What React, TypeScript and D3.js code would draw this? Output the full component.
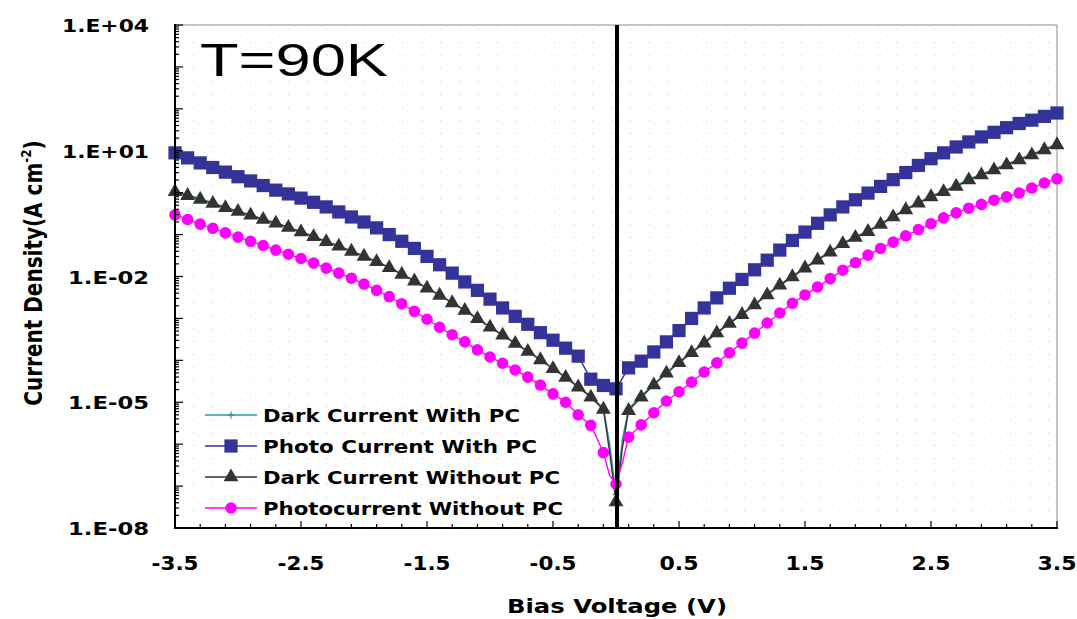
import React from "react";
import * as d3 from "d3";

const WIDTH = 1077;
const HEIGHT = 619;

// Bias voltage (V) sweep for the dark / photocurrent-without-PC curves
const VOLTAGE = [
  -3.5, -3.4, -3.3, -3.2, -3.1, -3.0, -2.9, -2.8, -2.7, -2.6, -2.5, -2.4, -2.3, -2.2, -2.1, -2.0, -1.9, -1.8,
  -1.7, -1.6, -1.5, -1.4, -1.3, -1.2, -1.1, -1.0, -0.9, -0.8, -0.7, -0.6, -0.5, -0.4, -0.3, -0.2, -0.1, -0.05,
  0, 0.05, 0.1, 0.2, 0.3, 0.4, 0.5, 0.6, 0.7, 0.8, 0.9, 1.0, 1.1, 1.2, 1.3, 1.4, 1.5, 1.6, 1.7, 1.8, 1.9, 2.0,
  2.1, 2.2, 2.3, 2.4, 2.5, 2.6, 2.7, 2.8, 2.9, 3.0, 3.1, 3.2, 3.3, 3.4, 3.5,
];
// Bias voltage (V) sweep for the photocurrent-with-PC curve
const VOLTAGE_PHOTO_PC = [
  -3.5, -3.4, -3.3, -3.2, -3.1, -3.0, -2.9, -2.8, -2.7, -2.6, -2.5, -2.4, -2.3, -2.2, -2.1, -2.0, -1.9, -1.8,
  -1.7, -1.6, -1.5, -1.4, -1.3, -1.2, -1.1, -1.0, -0.9, -0.8, -0.7, -0.6, -0.5, -0.4, -0.3, -0.2, -0.1,
  0, 0.1, 0.2, 0.3, 0.4, 0.5, 0.6, 0.7, 0.8, 0.9, 1.0, 1.1, 1.2, 1.3, 1.4, 1.5, 1.6, 1.7, 1.8, 1.9, 2.0,
  2.1, 2.2, 2.3, 2.4, 2.5, 2.6, 2.7, 2.8, 2.9, 3.0, 3.1, 3.2, 3.3, 3.4, 3.5,
];
// sweep points drawn as line only (no marker)
const UNMARKED_VOLTAGES = [-0.05, 0.05];

// log10 of current density (A cm^-2)
const DARK_WITH_PC_LOG = [
  0.04, -0.05, -0.15, -0.24, -0.35, -0.44, -0.53, -0.63, -0.72, -0.82, -0.93, -1.04, -1.16, -1.27, -1.39, -1.51, -1.64, -1.78,
  -1.94, -2.10, -2.27, -2.44, -2.62, -2.80, -3.00, -3.20, -3.39, -3.59, -3.78, -3.98, -4.19, -4.40, -4.62, -4.86, -5.14, -6.0,
  -7.2, -5.9, -5.15, -4.85, -4.57, -4.29, -4.04, -3.80, -3.57, -3.33, -3.10, -2.89, -2.66, -2.42, -2.19, -1.99, -1.78, -1.59,
  -1.40, -1.20, -1.05, -0.91, -0.74, -0.56, -0.39, -0.23, -0.08, 0.04, 0.17, 0.32, 0.44, 0.56, 0.68, 0.80, 0.92, 1.04, 1.16,
];
const PHOTO_WITH_PC_LOG = [
  0.95, 0.83, 0.71, 0.60, 0.49, 0.38, 0.28, 0.17, 0.06, -0.03, -0.13, -0.23, -0.34, -0.46, -0.58, -0.70, -0.84, -1.00,
  -1.16, -1.33, -1.52, -1.72, -1.92, -2.13, -2.33, -2.54, -2.75, -2.95, -3.14, -3.34, -3.52, -3.71, -3.90, -4.45, -4.60,
  -4.68, -4.18, -4.02, -3.80, -3.56, -3.29, -3.00, -2.75, -2.51, -2.28, -2.07, -1.84, -1.61, -1.37, -1.14, -0.94, -0.73,
  -0.53, -0.34, -0.17, -0.01, 0.15, 0.31, 0.48, 0.65, 0.81, 0.95, 1.09, 1.21, 1.33, 1.44, 1.55, 1.65, 1.73, 1.82, 1.90,
];
const DARK_WITHOUT_PC_LOG = [
  0.02, -0.07, -0.16, -0.26, -0.36, -0.45, -0.54, -0.64, -0.73, -0.83, -0.94, -1.05, -1.17, -1.28, -1.40, -1.52, -1.65, -1.79,
  -1.95, -2.11, -2.28, -2.45, -2.63, -2.81, -3.01, -3.21, -3.40, -3.60, -3.79, -3.99, -4.20, -4.41, -4.64, -4.88, -5.17, -6.2,
  -7.38, -6.1, -5.2, -4.88, -4.59, -4.31, -4.06, -3.82, -3.59, -3.35, -3.12, -2.91, -2.68, -2.44, -2.21, -2.01, -1.80, -1.61,
  -1.42, -1.22, -1.07, -0.93, -0.76, -0.58, -0.41, -0.25, -0.10, 0.02, 0.15, 0.30, 0.42, 0.54, 0.66, 0.78, 0.90, 1.02, 1.14,
];
const PHOTO_WITHOUT_PC_LOG = [
  -0.53, -0.64, -0.75, -0.85, -0.96, -1.06, -1.16, -1.26, -1.37, -1.47, -1.57, -1.68, -1.80, -1.92, -2.04, -2.18, -2.33, -2.48,
  -2.65, -2.83, -3.02, -3.21, -3.39, -3.56, -3.75, -3.92, -4.07, -4.23, -4.40, -4.59, -4.80, -5.00, -5.30, -5.55, -6.20, -6.75,
  -6.95, -6.45, -5.83, -5.54, -5.25, -4.97, -4.75, -4.52, -4.28, -4.06, -3.82, -3.59, -3.35, -3.11, -2.87, -2.64, -2.44, -2.25,
  -2.05, -1.85, -1.67, -1.49, -1.33, -1.18, -1.03, -0.88, -0.74, -0.60, -0.48, -0.37, -0.28, -0.18, -0.10, -0.01, 0.11, 0.23, 0.33,
];

const SERIES_NAMES = ["Dark Current With PC", "Photo Current With PC", "Dark Current Without PC", "Photocurrent Without PC"];
const SERIES_COLORS = ["#2f9a9a", "#333399", "#333333", "#ff00ff"];

const X_TICK_VALUES = [-3.5, -2.5, -1.5, -0.5, 0.5, 1.5, 2.5, 3.5];
const X_TICK_LABELS = ["-3.5", "-2.5", "-1.5", "-0.5", "0.5", "1.5", "2.5", "3.5"];
const Y_TICK_VALUES = [1e4, 1e1, 1e-2, 1e-5, 1e-8];
const Y_TICK_LABELS = ["1.E+04", "1.E+01", "1.E-02", "1.E-05", "1.E-08"];

const FONT = "'DejaVu Sans', Verdana, sans-serif";
const TITLE_FONT = "Arial, 'Liberation Sans', Helvetica, sans-serif";

const M = { left: 175, right: 1057, top: 25, bottom: 528 };

export default function App() {
  const x = d3.scaleLinear().domain([-3.5, 3.5]).range([M.left, M.right]);
  const y = d3.scaleLog().domain([1e-8, 1e4]).range([M.bottom, M.top]);

  const toPts = (vs: number[], ls: number[]) => vs.map((v, i) => [v, Math.pow(10, ls[i])] as [number, number]);
  const line = d3
    .line<[number, number]>()
    .x((d) => x(d[0]))
    .y((d) => y(d[1]));

  const series = [
    { pts: toPts(VOLTAGE, DARK_WITH_PC_LOG), kind: "plus" },
    { pts: toPts(VOLTAGE_PHOTO_PC, PHOTO_WITH_PC_LOG), kind: "square" },
    { pts: toPts(VOLTAGE, DARK_WITHOUT_PC_LOG), kind: "triangle" },
    { pts: toPts(VOLTAGE, PHOTO_WITHOUT_PC_LOG), kind: "circle" },
  ];

  const symSquare = d3.symbol(d3.symbolSquare, 175)() as string;
  const symTriangle = d3.symbol(d3.symbolTriangle, 95)() as string;
  const symCircle = d3.symbol(d3.symbolCircle, 105)() as string;
  const plusPath = "M-3.5,0H3.5M0,-3.5V3.5";

  const marker = (kind: string, color: string, cx: number, cy: number, key: any) => {
    if (kind === "plus")
      return <path key={key} d={plusPath} transform={`translate(${cx},${cy})`} stroke={color} strokeWidth={1.3} fill="none" />;
    const d = kind === "square" ? symSquare : kind === "triangle" ? symTriangle : symCircle;
    return <path key={key} d={d} transform={`translate(${cx},${cy})`} fill={color} />;
  };

  // axis ticks
  const xMinor = d3.range(36).map((i) => ({ v: -3.5 + 0.2 * i, major: i % 5 === 0 }));
  const yMinor: { v: number; major: boolean }[] = [];
  for (let e = -8; e < 4; e++) for (let m = 1; m <= 9; m++) yMinor.push({ v: m * Math.pow(10, e), major: m === 1 });
  yMinor.push({ v: 1e4, major: true });

  const legendY = [415, 446, 477, 508];
  const legendWidths = [257, 274, 297, 300];

  return (
    <svg
      width={WIDTH}
      height={HEIGHT}
      style={{ position: "absolute", left: 0, top: 0, display: "block", background: "#fff" }}
      fontFamily={FONT}
    >
      <defs>
        <pattern id="dots" width="19" height="13" patternUnits="userSpaceOnUse">
          <rect x="3" y="3" width="1.6" height="1.2" fill="#f2a8ee" opacity="0.55" />
          <rect x="12" y="9" width="1.6" height="1.2" fill="#a8eef2" opacity="0.55" />
          <rect x="8" y="7" width="1.4" height="1" fill="#f2eeaa" opacity="0.45" />
        </pattern>
      </defs>
      <rect width={WIDTH} height={HEIGHT} fill="#ffffff" />
      <rect x={M.left} y={M.top} width={M.right - M.left} height={M.bottom - M.top} fill="url(#dots)" />

      {/* top & right frame */}
      <line x1={M.left} x2={M.right} y1={M.top} y2={M.top} stroke="#8a8a8a" strokeWidth={1} />
      <line x1={M.right} x2={M.right} y1={M.top} y2={M.bottom} stroke="#8a8a8a" strokeWidth={1} />

      {/* series */}
      {series.map((s, si) => (
        <g key={si}>
          <path d={line(s.pts) as string} fill="none" stroke={SERIES_COLORS[si]} strokeWidth={1.4} />
          {s.pts.map((p, i) =>
            UNMARKED_VOLTAGES.includes(p[0]) ? null : marker(s.kind, SERIES_COLORS[si], x(p[0]), y(p[1]), i)
          )}
        </g>
      ))}

      {/* zero bias line */}
      <line x1={x(0) + 1} x2={x(0) + 1} y1={M.top} y2={M.bottom} stroke="#000" strokeWidth={4} />

      {/* axes */}
      <line x1={M.left} x2={M.left} y1={M.top - 1} y2={M.bottom + 1} stroke="#000" strokeWidth={2} />
      <line x1={M.left - 1} x2={M.right + 1} y1={M.bottom} y2={M.bottom} stroke="#000" strokeWidth={2} />
      {xMinor.map((t, i) => (
        <line
          key={"xt" + i}
          x1={x(t.v)}
          x2={x(t.v)}
          y1={M.bottom}
          y2={M.bottom - (t.major ? 7 : 4)}
          stroke="#000"
          strokeWidth={1.2}
        />
      ))}
      {yMinor.map((t, i) => (
        <line
          key={"yt" + i}
          x1={M.left}
          x2={M.left + (t.major ? 8 : 4)}
          y1={y(t.v)}
          y2={y(t.v)}
          stroke="#000"
          strokeWidth={1.2}
        />
      ))}

      {/* tick labels */}
      {X_TICK_VALUES.map((v, i) => (
        <text
          key={"xl" + i}
          x={x(v)}
          y={570}
          textAnchor="middle"
          fontSize={20}
          fontWeight="bold"
          textLength={X_TICK_LABELS[i].startsWith("-") ? 47 : 39}
          lengthAdjust="spacingAndGlyphs"
          fill="#000"
        >
          {X_TICK_LABELS[i]}
        </text>
      ))}
      {Y_TICK_VALUES.map((v, i) => (
        <text
          key={"yl" + i}
          x={149}
          y={y(v) + 7}
          textAnchor="end"
          fontSize={18}
          fontWeight="bold"
          textLength={Y_TICK_LABELS[i].includes("+") ? 87 : 81}
          lengthAdjust="spacingAndGlyphs"
          fill="#000"
        >
          {Y_TICK_LABELS[i]}
        </text>
      ))}

      {/* axis titles */}
      <text x={617} y={613} textAnchor="middle" fontSize={20} fontWeight="bold" textLength={220} lengthAdjust="spacingAndGlyphs">
        Bias Voltage (V)
      </text>
      <text transform="translate(42,273) rotate(-90) scale(1,1.2)" textAnchor="middle" fontSize={20} fontWeight="bold">
        Current Density(A cm
        <tspan fontSize={12} dy={-9}>
          -2
        </tspan>
        <tspan dy={9}>)</tspan>
      </text>

      {/* temperature */}
      <text x={200} y={76} fontFamily={TITLE_FONT} fontSize={47} textLength={188} lengthAdjust="spacingAndGlyphs" fill="#000">
        T=90K
      </text>

      {/* legend */}
      {SERIES_NAMES.map((name, i) => (
        <g key={"lg" + i}>
          <line x1={205} x2={257} y1={legendY[i]} y2={legendY[i]} stroke={SERIES_COLORS[i]} strokeWidth={1.6} />
          {marker(series[i].kind, SERIES_COLORS[i], 231, legendY[i], "m")}
          <text
            x={263}
            y={legendY[i] + 7}
            fontSize={18}
            fontWeight="bold"
            textLength={legendWidths[i]}
            lengthAdjust="spacingAndGlyphs"
            fill="#000"
          >
            {name}
          </text>
        </g>
      ))}
    </svg>
  );
}
